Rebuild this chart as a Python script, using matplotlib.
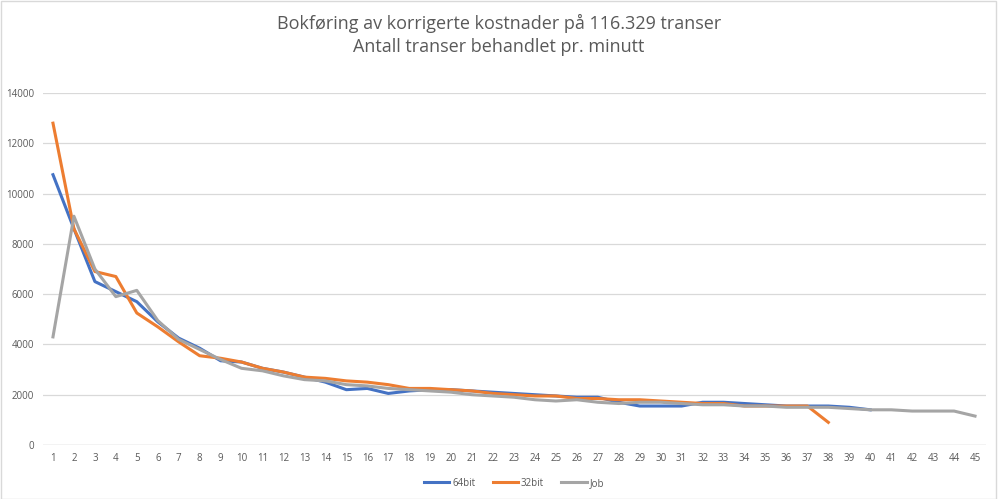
import numpy as np
import matplotlib
matplotlib.use('Agg')
import matplotlib.pyplot as plt
from matplotlib.patches import Rectangle

# data
runs = list(range(1, 46))
bit64 = [10750, 8600, 6500, 6100, 5700, 4900, 4250, 3850, 3350, 3300,
         3050, 2900, 2700, 2500, 2200, 2250, 2050, 2150, 2200, 2200,
         2150, 2100, 2050, 2000, 1950, 1900, 1900, 1700, 1550, 1550,
         1550, 1700, 1700, 1650, 1600, 1550, 1550, 1550, 1500, 1400]
bit32 = [12800, 8600, 6900, 6700, 5250, 4700, 4100, 3550, 3450, 3300,
         3050, 2900, 2700, 2650, 2550, 2500, 2400, 2250, 2250, 2200,
         2150, 2050, 2000, 1950, 1950, 1850, 1850, 1800, 1800, 1750,
         1700, 1650, 1650, 1550, 1550, 1550, 1550, 900]
job = [4300, 9100, 7000, 5900, 6150, 4950, 4200, 3800, 3400, 3050,
       2950, 2750, 2600, 2550, 2400, 2350, 2250, 2200, 2150, 2100,
       2000, 1950, 1900, 1800, 1750, 1800, 1700, 1650, 1700, 1700,
       1650, 1600, 1600, 1550, 1550, 1500, 1500, 1500, 1450, 1400,
       1400, 1350, 1350, 1350, 1150]
yticks = list(range(0, 14001, 2000))

plt.rcParams['font.family'] = ['Open Sans', 'DejaVu Sans']
txt = '#595959'

fig = plt.figure(figsize=(9.98, 4.99), dpi=100)
ax = fig.add_axes([42.5/998, 54/499, 943/998, 352/499])

ax.plot(runs[:len(bit64)], bit64, color='#4472C4', lw=2.2, label='64bit', solid_joinstyle='round')
ax.plot(runs[:len(bit32)], bit32, color='#ED7D31', lw=2.2, label='32bit', solid_joinstyle='round')
ax.plot(runs[:len(job)], job, color='#A5A5A5', lw=2.2, label='Job', solid_joinstyle='round')

ax.set_xlim(0.5, 45.5)
ax.set_ylim(0, 14000)
ax.set_xticks(runs)
ax.set_yticks(yticks)
ax.tick_params(axis='both', length=0, labelsize=7, colors=txt, pad=6)
ax.grid(axis='y', color='#D9D9D9', lw=0.9)
ax.set_axisbelow(True)
for s in ax.spines.values():
    s.set_visible(False)
ax.axhline(0, color='#D9D9D9', lw=1, zorder=0)

fig.text(0.5, 0.972, 'Bokføring av korrigerte kostnader på 116.329 transer\nAntall transer behandlet pr. minutt',
         ha='center', va='top', fontsize=13, color=txt, linespacing=1.35)

ax.legend(loc='upper center', bbox_to_anchor=(0.5, -0.068), ncol=3, frameon=False,
          fontsize=7, labelcolor=txt, handlelength=2.6, handletextpad=0.3, columnspacing=1.8)

fig.patches.append(Rectangle((0.001, 0.001), 0.997, 0.997, transform=fig.transFigure,
                             fill=False, edgecolor='#D9D9D9', lw=1))

fig.savefig('out.png', dpi=100)
